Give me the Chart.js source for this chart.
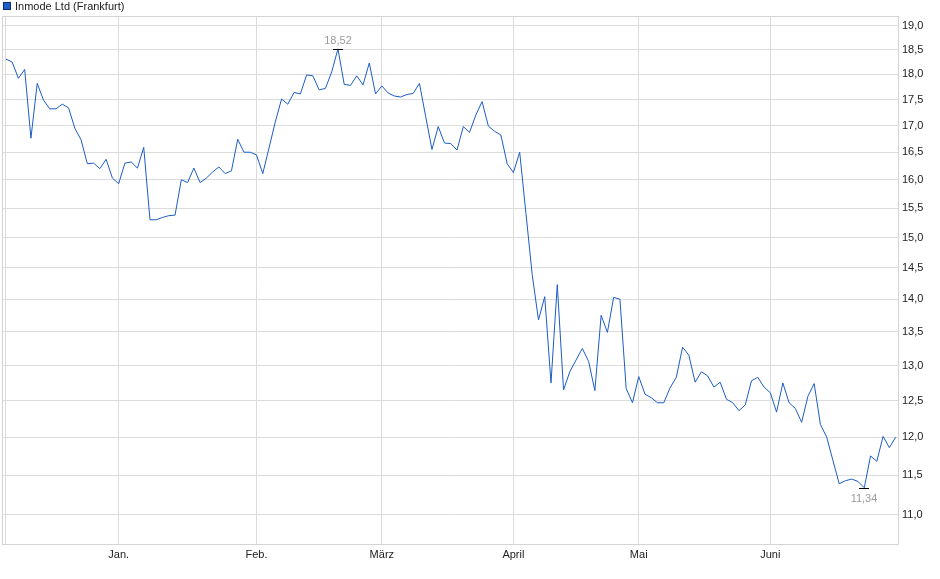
<!DOCTYPE html>
<html><head><meta charset="utf-8">
<script src="https://cdn.jsdelivr.net/npm/chart.js@4.4.1/dist/chart.umd.min.js"></script>
<style>html,body{margin:0;padding:0;background:#fff;overflow:hidden}#wrap{width:940px;height:579px;position:relative}canvas{display:block}</style>
</head><body><div id="wrap"><canvas id="c" width="940" height="579"></canvas></div>
<script>
const seriesName = 'Inmode Ltd (Frankfurt)';
// one value per trading day, 2 Dec .. 30 Jun
const prices = [
 18.31,18.25,17.92,18.10,16.76,17.82,17.49,17.32,17.32,17.41,
 17.34,16.95,16.73,16.29,16.30,16.20,16.37,16.03,15.93,16.30,
 16.32,16.21,16.59,15.30,15.30,15.34,15.37,15.38,16.00,15.95,
 16.21,15.95,16.03,16.14,16.23,16.11,16.16,16.74,16.50,16.50,
 16.45,16.11,16.58,17.07,17.51,17.41,17.64,17.61,17.99,17.97,
 17.69,17.72,18.05,18.52,17.80,17.78,17.97,17.79,18.23,17.61,
 17.77,17.63,17.57,17.55,17.60,17.62,17.82,17.17,16.55,16.98,
 16.67,16.66,16.54,16.98,16.87,17.20,17.46,16.99,16.89,16.82,
 16.29,16.13,16.50,15.41,14.39,13.68,14.04,12.75,14.23,12.65,
 12.91,13.08,13.25,13.06,12.64,13.75,13.49,14.03,14.00,12.67,
 12.47,12.84,12.59,12.54,12.47,12.47,12.68,12.83,13.27,13.15,
 12.76,12.91,12.85,12.69,12.76,12.52,12.47,12.36,12.44,12.78,
 12.83,12.69,12.61,12.34,12.75,12.47,12.39,12.20,12.56,12.74,
 12.17,12.00,11.69,11.39,11.43,11.45,11.42,11.34,11.75,11.68,
 12.01,11.86,12.00
];
const monthStartIndex = [0, 18, 40, 60, 81, 101, 122];
const monthLabels = ['', 'Jan.', 'Feb.', 'März', 'April', 'Mai', 'Juni'];
const yTicks = [11.0, 11.5, 12.0, 12.5, 13.0, 13.5, 14.0, 14.5, 15.0, 15.5, 16.0, 16.5, 17.0, 17.5, 18.0, 18.5, 19.0];

const FONT = '"Liberation Sans", Arial, sans-serif';
const fmt = (v, d) => v.toFixed(d).replace('.', ',');

const decor = {
  id: 'decor',
  beforeDatasetsDraw(chart) {
    const {ctx, chartArea: a} = chart;
    ctx.save();
    ctx.strokeStyle = '#d4d4d4';
    ctx.lineWidth = 1;
    ctx.strokeRect(Math.round(a.left) - 0.5, Math.round(a.top) + 0.5, Math.round(a.right - a.left) + 1, Math.round(a.bottom - a.top) - 1);
    ctx.restore();
  },
  afterDraw(chart) {
    const {ctx, scales: {x, y}} = chart;
    ctx.save();
    // legend
    ctx.fillStyle = '#1f5ec8';
    ctx.fillRect(3, 2, 8, 8);
    ctx.strokeStyle = '#132e66';
    ctx.lineWidth = 1;
    ctx.strokeRect(3.5, 2.5, 7, 7);
    ctx.font = '11px ' + FONT;
    ctx.fillStyle = '#222';
    ctx.textBaseline = 'middle';
    ctx.textAlign = 'left';
    ctx.fillText(seriesName, 15, 6.5);
    // high / low markers
    let hi = 0, lo = 0;
    prices.forEach((v, i) => { if (v > prices[hi]) hi = i; if (v < prices[lo]) lo = i; });
    ctx.textAlign = 'center';
    ctx.fillStyle = '#9a9a9a';
    ctx.strokeStyle = '#000';
    const hx = Math.round(x.getPixelForValue(hi)), hy = Math.round(y.getPixelForValue(prices[hi]));
    ctx.beginPath(); ctx.moveTo(hx - 5, hy + 0.5); ctx.lineTo(hx + 5, hy + 0.5); ctx.stroke();
    ctx.fillText(fmt(prices[hi], 2), hx, hy - 8);
    const lx = Math.round(x.getPixelForValue(lo)), ly = Math.round(y.getPixelForValue(prices[lo]));
    ctx.beginPath(); ctx.moveTo(lx - 5, ly + 0.5); ctx.lineTo(lx + 5, ly + 0.5); ctx.stroke();
    ctx.fillText(fmt(prices[lo], 2), lx, ly + 11);
    ctx.restore();
  }
};

new Chart(document.getElementById('c'), {
  type: 'line',
  data: {
    datasets: [{
      label: seriesName,
      data: prices.map((v, i) => ({x: i, y: v})),
      borderColor: '#1c5cc6',
      borderWidth: 1,
      pointRadius: 0,
      tension: 0,
      fill: false
    }]
  },
  options: {
    responsive: false,
    animation: false,
    devicePixelRatio: 1,
    layout: {padding: {top: 16, left: 3, right: 0, bottom: 0}},
    plugins: {legend: {display: false}, tooltip: {enabled: false}},
    scales: {
      x: {
        type: 'linear',
        min: -0.46,
        max: 142.38,
        afterBuildTicks: s => { s.ticks = monthStartIndex.map(v => ({value: v})); },
        afterFit: s => { s.height = 34; },
        grid: {color: '#dcdcdc', drawTicks: false},
        border: {display: false},
        ticks: {
          autoSkip: false, maxRotation: 0, padding: 3,
          color: '#222', font: {family: FONT, size: 11},
          callback: (v, i) => monthLabels[i]
        }
      },
      y: {
        type: 'logarithmic',
        position: 'right',
        min: 10.637,
        max: 19.2135,
        afterBuildTicks: s => { s.ticks = yTicks.map(v => ({value: v})); },
        afterFit: s => { s.width = 42; },
        grid: {color: '#dcdcdc', drawTicks: false},
        border: {display: false},
        ticks: {
          padding: 4,
          color: '#222', font: {family: FONT, size: 11},
          callback: v => fmt(v, 1)
        }
      }
    }
  },
  plugins: [decor]
});
</script>
</body></html>
